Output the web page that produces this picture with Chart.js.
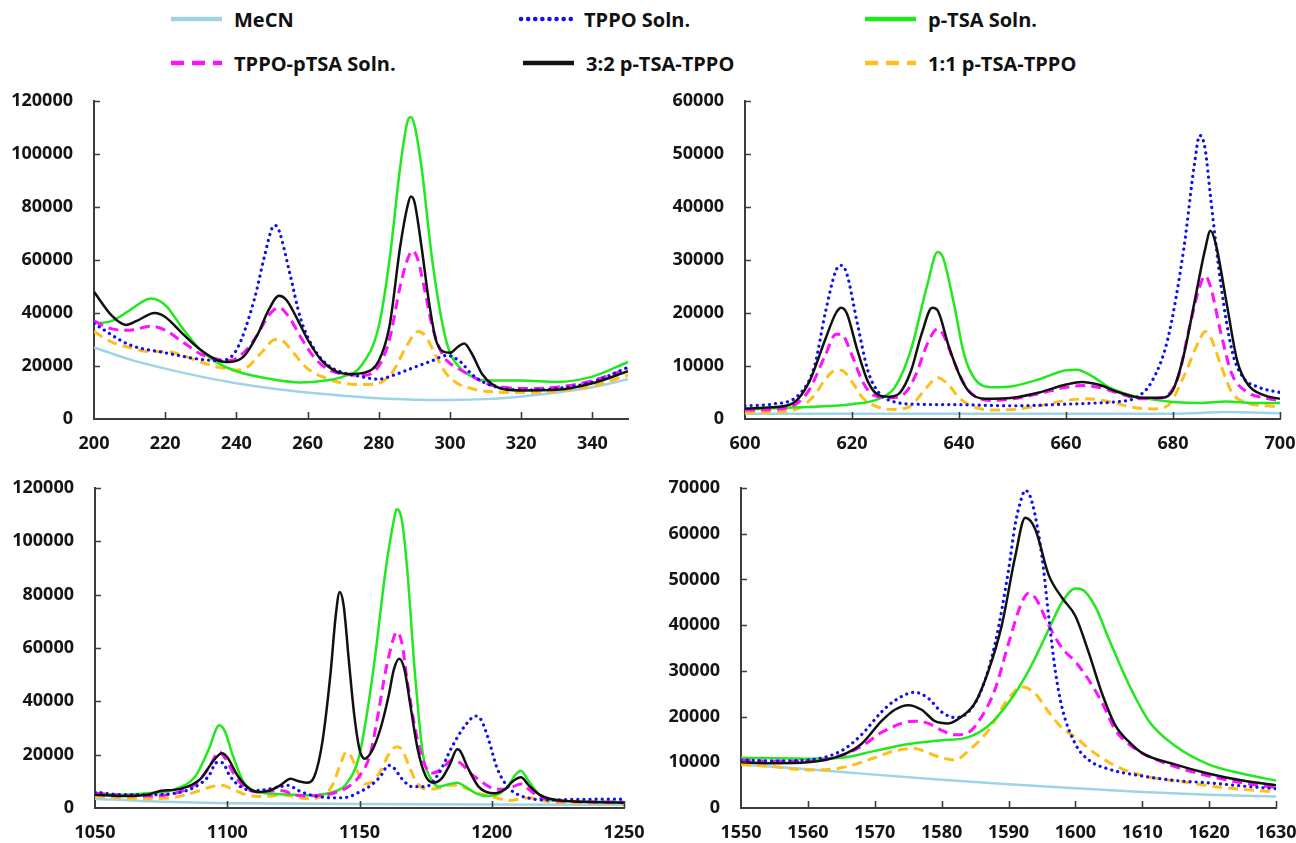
<!DOCTYPE html>
<html>
<head>
<meta charset="utf-8">
<script src="https://cdn.jsdelivr.net/npm/chart.js@4"></script>
<style>
  html, body { margin:0; padding:0; background:#fff; }
  body { width:1296px; height:843px; position:relative; overflow:hidden; font-family:'Open Sans', sans-serif; }
  canvas { position:absolute; }
  .leg { position:absolute; height:24px; display:flex; align-items:center; font-weight:700; font-size:20px; color:#111; white-space:nowrap; }
  .leg svg { margin-right:10px; }
</style>
</head>
<body>
<div id="legend"></div>
<canvas id="c1" width="650" height="380" style="left:0;top:86px"></canvas>
<canvas id="c2" width="650" height="380" style="left:646px;top:86px"></canvas>
<canvas id="c3" width="650" height="377" style="left:0;top:466px"></canvas>
<canvas id="c4" width="650" height="377" style="left:646px;top:466px"></canvas>
<script>
// ---------- series names ----------
const SERIES_NAMES = ['MeCN', 'TPPO Soln.', 'p-TSA Soln.', 'TPPO-pTSA Soln.', '3:2 p-TSA-TPPO', '1:1 p-TSA-TPPO'];

// ---------- Panel 1 (200-350) ----------
const P1_MECN  = [[200,27000],[210,22500],[220,19000],[230,16000],[240,13500],[250,11500],[260,10000],[270,8800],[280,7800],[290,7300],[300,7200],[310,7500],[320,8500],[330,10000],[340,12000],[350,15000]];
const P1_TPPO  = [[200,36000],[210,28000],[220,25000],[230,22500],[235,22000],[240,26000],[245,45000],[248,62000],[250,72000],[251,73000],[252,71000],[255,55000],[258,38000],[262,26000],[266,20000],[270,17500],[275,16000],[280,15000],[283,16000],[290,19500],[295,22000],[299,24000],[303,21500],[306,17000],[310,13500],[315,11500],[320,11000],[330,11500],[340,14000],[350,19500]];
const P1_PTSA  = [[200,36000],[205,37000],[210,41000],[216,45500],[220,43000],[225,34000],[230,26000],[235,21000],[240,18000],[250,15000],[258,13800],[265,14500],[270,16000],[275,20000],[280,35000],[283,60000],[286,95000],[288,112000],[289,114000],[290,111000],[292,95000],[295,60000],[298,35000],[300,25000],[303,19000],[307,15500],[310,14500],[320,14500],[330,14000],[340,16000],[350,21500]];
const P1_MIX   = [[200,37000],[205,34000],[210,33500],[216,35000],[220,33500],[225,29000],[230,24500],[235,22500],[238,22000],[242,25000],[246,32000],[249,39000],[252,42000],[255,38000],[258,31000],[262,23000],[266,18500],[270,17000],[276,16500],[280,20000],[283,30000],[286,50000],[288,60000],[289.5,63500],[291,60000],[293,48000],[295,35000],[298,24000],[300,21000],[303,18500],[307,15500],[310,13500],[315,12000],[320,11500],[330,12000],[340,14500],[350,19000]];
const P1_R32   = [[200,48000],[205,39000],[209,35500],[212,37000],[217,40000],[220,38500],[225,32000],[230,26000],[235,22000],[238,21500],[242,23500],[246,32000],[249,41000],[252,46500],[254,45000],[257,38000],[260,30000],[264,22000],[268,18000],[272,17000],[276,17500],[280,22000],[283,35000],[286,65000],[288,80000],[289,84000],[290,82000],[292,65000],[294,45000],[296,30000],[298,25500],[300,25000],[302,27000],[304,28500],[306,25000],[309,17000],[312,13000],[316,11000],[320,10800],[330,11000],[340,13500],[350,18000]];
const P1_R11   = [[200,33000],[205,29000],[210,27000],[215,25500],[220,25500],[225,24000],[230,21500],[235,19500],[240,18500],[243,19500],[247,25000],[251,30000],[253,29500],[256,25000],[260,19000],[265,15500],[270,13500],[275,13000],[280,13500],[284,18000],[288,28000],[291,33000],[293,31500],[296,24000],[299,17000],[302,13500],[306,11500],[310,10500],[320,10000],[330,10500],[340,12500],[350,16500]];

// ---------- Panel 2 (600-700) ----------
const P2_MECN  = [[600,1000],[620,1000],[650,1000],[680,1000],[690,1300],[700,1100]];
const P2_TPPO  = [[600,2500],[605,2800],[610,4500],[613,10000],[615,20000],[617,28000],[618,29000],[619,27500],[621,18000],[623,9000],[625,5000],[628,3200],[632,2800],[640,2700],[650,2500],[660,2800],[665,3000],[670,3300],[673,4000],[676,7000],[679,15000],[682,32000],[684,48000],[685,53500],[686,51000],[687,42000],[689,25000],[691,13000],[693,8000],[696,6000],[700,5000]];
const P2_PTSA  = [[600,1800],[610,2200],[620,2800],[625,3800],[628,6000],[631,13000],[634,25000],[636,31500],[637,30500],[639,22000],[641,12000],[643,7500],[646,6000],[650,6200],[655,7500],[660,9200],[662,9300],[665,8000],[668,6000],[672,4500],[676,3700],[680,3200],[685,3000],[690,3300],[695,3000],[700,3000]];
const P2_MIX   = [[600,1700],[605,1800],[609,2500],[612,5500],[615,12000],[617,16000],[618,16000],[620,12000],[622,7000],[624,4500],[627,4000],[630,5000],[632,8500],[634,14000],[636,17000],[637,16000],[639,11000],[641,6500],[643,4300],[646,3500],[650,3800],[655,4800],[660,6000],[663,6300],[666,6000],[670,4800],[674,3800],[678,4000],[681,8000],[683,17000],[685,25000],[686,27000],[687,25000],[689,16000],[691,8500],[694,5000],[697,4000],[700,3500]];
const P2_R32   = [[600,2000],[605,2200],[609,3000],[612,7000],[615,15000],[617,20000],[618,21000],[619,20000],[621,13000],[623,7000],[625,4500],[627,4200],[629,5000],[631,9000],[633,16000],[635,21000],[636,20500],[638,14000],[640,8500],[642,5000],[645,3800],[650,4000],[655,5000],[660,6500],[663,7000],[666,6500],[670,5000],[674,4000],[678,4000],[680,5500],[682,12000],[684,22000],[686,32000],[687,35500],[688,33000],[690,22000],[692,11000],[694,6500],[697,4500],[700,3800]];
const P2_R11   = [[600,1200],[605,1300],[610,2000],[613,4500],[615,7500],[617,9200],[618,9200],[620,7000],[622,4000],[625,2200],[628,1800],[631,2500],[634,6000],[636,7800],[638,6500],[640,4000],[643,2200],[647,1700],[650,1800],[655,2500],[660,3500],[664,3800],[668,3300],[672,2300],[676,1900],[679,2500],[682,8000],[685,15000],[686,16500],[687,15500],[689,10000],[691,5000],[694,3000],[697,2500],[700,2300]];

// ---------- Panel 3 (1050-1250) ----------
const P3_MECN  = [[1050,3500],[1070,2500],[1100,1800],[1150,1500],[1200,1300],[1250,1200]];
const P3_TPPO  = [[1050,6000],[1060,5000],[1070,5000],[1080,5500],[1088,8000],[1093,12000],[1096,17000],[1098,17000],[1101,12000],[1105,8000],[1110,6500],[1115,7000],[1120,8000],[1123,8500],[1127,6500],[1131,5000],[1135,4200],[1140,3800],[1145,4000],[1150,6000],[1155,9000],[1158,12000],[1161,16000],[1163,15000],[1166,11000],[1170,8000],[1175,8000],[1180,13000],[1185,23000],[1190,31000],[1194,34500],[1196,33000],[1199,25000],[1202,15000],[1206,8000],[1210,5000],[1215,3500],[1220,3000],[1230,3200],[1240,3300],[1250,3300]];
const P3_PTSA  = [[1050,5500],[1060,5000],[1070,5500],[1080,7000],[1088,12000],[1093,22000],[1097,31000],[1099,29000],[1102,20000],[1106,10000],[1110,6500],[1115,5500],[1120,5200],[1125,5000],[1130,4800],[1135,5000],[1140,6000],[1145,9000],[1150,20000],[1155,50000],[1160,90000],[1163,108000],[1164,112000],[1166,108000],[1168,90000],[1171,50000],[1174,20000],[1177,11000],[1180,8000],[1184,9000],[1187,9500],[1190,8000],[1194,5500],[1198,4500],[1202,5000],[1206,8000],[1209,12500],[1211,14000],[1214,10000],[1218,5000],[1222,3000],[1230,2500],[1240,2300],[1250,2200]];
const P3_MIX   = [[1050,5500],[1060,4800],[1070,4500],[1080,5500],[1088,9000],[1093,15000],[1097,21000],[1099,19000],[1103,12000],[1107,7500],[1112,6000],[1117,6500],[1121,6500],[1125,5000],[1130,4500],[1135,4800],[1140,5500],[1145,7500],[1150,12000],[1154,20000],[1157,35000],[1160,52000],[1163,64000],[1164,66000],[1166,62000],[1168,48000],[1171,30000],[1174,18000],[1177,13000],[1181,14500],[1185,18000],[1188,17000],[1192,13000],[1196,10000],[1200,7500],[1204,7000],[1208,8000],[1211,9000],[1214,7000],[1218,4000],[1222,3000],[1230,2500],[1250,2200]];
const P3_R32   = [[1050,5000],[1060,4500],[1070,5000],[1075,6500],[1080,6800],[1085,8000],[1090,11000],[1095,18000],[1098,20500],[1100,19000],[1104,12000],[1108,7500],[1112,6000],[1116,6500],[1120,8500],[1124,11000],[1127,10000],[1130,9500],[1133,12000],[1136,25000],[1139,50000],[1141,72000],[1142.5,81000],[1144,76000],[1146,55000],[1148,35000],[1150,22000],[1152,18500],[1155,22000],[1158,30000],[1161,42000],[1163,52000],[1165,56000],[1167,52000],[1169,40000],[1172,22000],[1175,12000],[1178,9500],[1181,11000],[1184,16000],[1187,22000],[1188,21500],[1191,15000],[1195,8000],[1198,6000],[1201,5500],[1205,7000],[1208,10000],[1211,11500],[1214,8500],[1218,5000],[1222,3500],[1230,2500],[1240,2200],[1250,2000]];
const P3_R11   = [[1050,4500],[1060,3800],[1070,3500],[1080,4000],[1088,6000],[1094,8000],[1098,8500],[1102,7000],[1107,5000],[1112,4300],[1117,4500],[1121,5000],[1126,4000],[1131,3500],[1136,4500],[1140,9000],[1143,17000],[1145,21000],[1147,19000],[1150,12000],[1152,9000],[1155,10000],[1158,14000],[1161,20000],[1164,23000],[1166,22000],[1169,15000],[1172,9000],[1176,7000],[1180,7500],[1184,8500],[1187,8500],[1191,7000],[1195,5500],[1199,4500],[1203,3500],[1207,2800],[1211,3500],[1214,3800],[1218,3000],[1225,2000],[1250,1800]];

// ---------- Panel 4 (1550-1630) ----------
const P4_MECN  = [[1550,9500],[1560,8500],[1570,7300],[1580,6200],[1590,5200],[1600,4300],[1610,3500],[1620,2900],[1630,2500]];
const P4_TPPO  = [[1550,10500],[1555,10300],[1560,10500],[1565,12500],[1568,16000],[1571,21000],[1573,23500],[1576,25300],[1578,24000],[1580,21000],[1582,19800],[1584,21000],[1586,26000],[1588,36000],[1590,52000],[1591,62000],[1592,68000],[1592.5,69500],[1593.5,67000],[1595,55000],[1596,42000],[1597,30000],[1598,22000],[1600,14000],[1602,10500],[1605,8500],[1610,7000],[1615,6000],[1620,5500],[1625,4800],[1630,4200]];
const P4_PTSA  = [[1550,11000],[1560,10800],[1565,11000],[1570,12500],[1575,14000],[1580,14800],[1584,15500],[1587,18000],[1590,23000],[1593,30000],[1596,39000],[1598,45000],[1600,48000],[1601,47800],[1603,44000],[1605,37000],[1608,27000],[1611,19000],[1615,13500],[1620,9500],[1625,7500],[1630,6000]];
const P4_MIX   = [[1550,10500],[1555,10200],[1560,10200],[1565,11500],[1568,13500],[1571,16500],[1574,18500],[1576,19000],[1578,18500],[1580,17000],[1582,16000],[1584,16500],[1586,20000],[1588,26000],[1590,36000],[1592,45000],[1593,47000],[1594,46000],[1596,40000],[1598,35000],[1600,32000],[1602,28000],[1604,23000],[1606,17000],[1608,14000],[1610,12000],[1615,9000],[1620,7000],[1625,5500],[1630,4500]];
const P4_R32   = [[1550,10000],[1555,9800],[1560,10000],[1565,11500],[1568,14000],[1571,19000],[1573,21500],[1575,22500],[1577,21500],[1579,19000],[1581,18500],[1583,20000],[1585,23000],[1587,30000],[1589,40000],[1591,55000],[1592.5,63500],[1594,61000],[1596,51000],[1598,46000],[1600,42000],[1602,34000],[1604,25000],[1606,18000],[1608,14500],[1610,12000],[1615,9500],[1620,7500],[1625,6000],[1630,5000]];
const P4_R11   = [[1550,9500],[1555,9000],[1560,8300],[1565,8800],[1570,11000],[1573,12500],[1576,13000],[1578,12000],[1580,11000],[1582,10500],[1584,12500],[1587,17000],[1590,24000],[1592,26500],[1594,25000],[1596,21000],[1598,17500],[1600,15500],[1602,13000],[1605,10000],[1608,8000],[1612,6500],[1617,5500],[1622,4500],[1630,3500]];

// ---------- axis settings ----------
const P1_X = [200, 350, 20];   const P1_Y = [0, 120000, 20000];
const P2_X = [600, 700, 20];   const P2_Y = [0, 60000, 10000];
const P3_X = [1050, 1250, 50]; const P3_Y = [0, 120000, 20000];
const P4_X = [1550, 1630, 10]; const P4_Y = [0, 70000, 10000];

// ---------- styles ----------
const STYLES = [
  { color:'#9ed3e8', width:2.5, dash:[],     cap:'butt',  order:6 },
  { color:'#1010f0', width:3.2, dash:[0.1,6], cap:'round', order:2 },
  { color:'#22e81e', width:2.5, dash:[],     cap:'butt',  order:4 },
  { color:'#ff10ff', width:3,   dash:[10,6], cap:'butt',  order:3 },
  { color:'#111111', width:2.5, dash:[],     cap:'butt',  order:1 },
  { color:'#ffbf1a', width:3,   dash:[10,6], cap:'butt',  order:5 }
];

const FONT = { family:"'Open Sans', sans-serif", size:18, weight:'700' };
const AXIS_COLOR = '#3c3c3c';

const innerTicks = {
  id:'innerTicks',
  afterDraw(chart) {
    const ctx = chart.ctx, xs = chart.scales.x, ys = chart.scales.y;
    const a = chart.chartArea;
    ctx.save();
    ctx.strokeStyle = AXIS_COLOR; ctx.lineWidth = 1.6;
    ctx.beginPath();
    xs.ticks.forEach(t => { const p = Math.round(xs.getPixelForValue(t.value)) + 0.5; if (p > a.left + 2) { ctx.moveTo(p, a.bottom); ctx.lineTo(p, a.bottom - 7); } });
    ys.ticks.forEach(t => { const p = Math.round(ys.getPixelForValue(t.value)) + 0.5; if (p < a.bottom - 2) { ctx.moveTo(a.left, p); ctx.lineTo(a.left + 6, p); } });
    ctx.stroke();
    ctx.restore();
  }
};

function makeChart(id, series, xr, yr, box) {
  const datasets = series.map((pts, i) => ({
    label: SERIES_NAMES[i],
    data: pts.map(p => ({ x:p[0], y:p[1] })),
    borderColor: STYLES[i].color,
    borderWidth: STYLES[i].width,
    borderDash: STYLES[i].dash,
    borderCapStyle: STYLES[i].cap,
    order: STYLES[i].order,
    pointRadius: 0,
    fill: false,
    cubicInterpolationMode: 'monotone'
  }));
  return new Chart(document.getElementById(id), {
    type: 'line',
    data: { datasets },
    options: {
      responsive: false,
      animation: false,
      devicePixelRatio: 1,
      layout: { autoPadding: false, padding: { top: box.top, right: box.right, left: 0, bottom: 0 } },
      plugins: { legend: { display:false }, tooltip: { enabled:false } },
      scales: {
        x: {
          type: 'linear', min: xr[0], max: xr[1],
          grid: { drawOnChartArea:false, drawTicks:false },
          border: { color: AXIS_COLOR, width: 2 },
          ticks: { stepSize: xr[2], includeBounds:false, color:'#151515', font: FONT, padding: 14, maxRotation:0, autoSkip:false, callback: v => String(v) },
          afterFit(s) { s.height = box.xh; s.paddingLeft = 0; s.paddingRight = 0; }
        },
        y: {
          min: yr[0], max: yr[1],
          grid: { drawOnChartArea:false, drawTicks:false },
          border: { color: AXIS_COLOR, width: 2 },
          ticks: { stepSize: yr[2], color:'#151515', font: FONT, padding: 21, callback: v => String(v) },
          afterFit(s) { s.width = box.yw; s.paddingTop = 0; s.paddingBottom = 0; }
        }
      }
    },
    plugins: [innerTicks]
  });
}

makeChart('c1', [P1_MECN, P1_TPPO, P1_PTSA, P1_MIX, P1_R32, P1_R11], P1_X, P1_Y, { top:15, right:22, xh:47, yw:94 });
makeChart('c2', [P2_MECN, P2_TPPO, P2_PTSA, P2_MIX, P2_R32, P2_R11], P2_X, P2_Y, { top:15, right:16, xh:47, yw:99 });
makeChart('c3', [P3_MECN, P3_TPPO, P3_PTSA, P3_MIX, P3_R32, P3_R11], P3_X, P3_Y, { top:22, right:26, xh:35, yw:95 });
makeChart('c4', [P4_MECN, P4_TPPO, P4_PTSA, P4_MIX, P4_R32, P4_R11], P4_X, P4_Y, { top:22, right:20, xh:35, yw:95 });

// ---------- legend (HTML) ----------
const LEG_POS = [[168,7],[518,7],[862,7],[168,51],[520,51],[862,51]];
const legend = document.getElementById('legend');
SERIES_NAMES.forEach((name, i) => {
  const s = STYLES[i];
  const d = document.createElement('div');
  d.className = 'leg';
  d.style.left = LEG_POS[i][0] + 'px';
  d.style.top = LEG_POS[i][1] + 'px';
  const dash = s.dash.length ? (i === 1 ? '0.1 7' : '13 8') : 'none';
  d.innerHTML = '<svg width="56" height="14"><line x1="3" y1="7" x2="54" y2="7" stroke="' + s.color + '" stroke-width="4.5" stroke-linecap="' + (i===1 ? 'round' : 'butt') + '" stroke-dasharray="' + dash + '"/></svg><span>' + name + '</span>';
  legend.appendChild(d);
});
</script>
</body>
</html>
